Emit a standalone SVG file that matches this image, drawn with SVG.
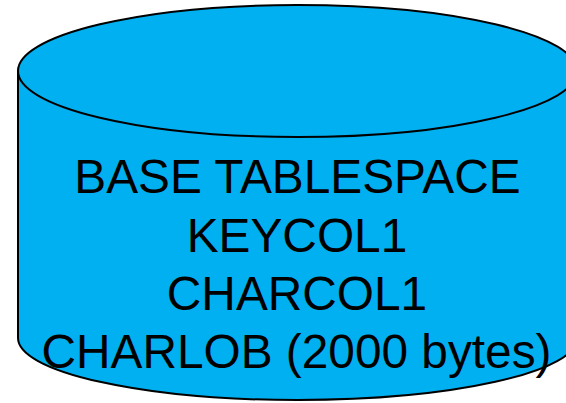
<svg xmlns="http://www.w3.org/2000/svg" width="566" height="403" viewBox="0 0 566 403">
  <style>
    .can { fill: #00B0F0; stroke: #000; stroke-width: 2; }
    .label { font-family: "Liberation Sans", Arial, sans-serif; font-size: 47.8px; fill: #000; text-anchor: middle; }
  </style>
  <rect width="566" height="403" fill="#fff"/>
  <g id="base-tablespace">
    <!-- cylinder body: side walls and lower rim -->
    <path class="can" d="M18,71 L18,338 A279.6,62 0 0 0 577.2,338 L577.2,71 Z"/>
    <!-- top face -->
    <ellipse class="can" cx="297.6" cy="71" rx="279.6" ry="66"/>
    <text class="label" x="297.5" y="193">BASE TABLESPACE</text>
    <text class="label" x="297" y="252">KEYCOL1</text>
    <text class="label" x="297" y="310">CHARCOL1</text>
    <text class="label" x="296.5" y="368">CHARLOB (2000 bytes)</text>
  </g>
</svg>
